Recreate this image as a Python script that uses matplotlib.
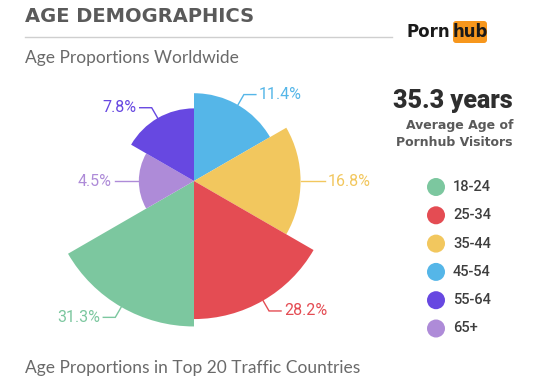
import numpy as np
import matplotlib
matplotlib.use("Agg")
import matplotlib.pyplot as plt
from matplotlib.patches import FancyBboxPatch, Circle

# ---- data ----
age_groups = ["45-54", "35-44", "25-34", "18-24", "65+", "55-64"]   # clockwise from top
shares = [11.4, 16.8, 28.2, 31.3, 4.5, 7.8]
colors = ["#55B6E8", "#F2C75E", "#E44C53", "#7CC79F", "#AE8BD8", "#6748E1"]
legend_groups = ["18-24", "25-34", "35-44", "45-54", "55-64", "65+"]
legend_colors = ["#7CC79F", "#E44C53", "#F2C75E", "#55B6E8", "#6748E1", "#AE8BD8"]

W, H = 560, 388
fig = plt.figure(figsize=(W / 100, H / 100), dpi=100)
fig.patch.set_facecolor("white")

# overlay axes in pixel coords (y downward)
ov = fig.add_axes([0, 0, 1, 1])
ov.set_xlim(0, W)
ov.set_ylim(H, 0)
ov.axis("off")

# polar axes: centre (194,181) px, 26 px per sqrt-unit
cx, cy, scale, R = 194, 181, 26.0, 6.0
rad_px = R * scale
pax = fig.add_axes([(cx - rad_px) / W, (H - cy - rad_px) / H, 2 * rad_px / W, 2 * rad_px / H],
                   projection="polar")
pax.set_theta_zero_location("N")
pax.set_theta_direction(-1)
pax.set_ylim(0, R)
pax.axis("off")
pax.set_zorder(1)
ov.set_zorder(2)
ov.patch.set_alpha(0)

n = len(shares)
width = 2 * np.pi / n
thetas = np.arange(n) * width + width / 2
radii = np.sqrt(shares)
pax.bar(thetas, radii, width=width, color=colors, edgecolor="none", align="center")

# leader lines and labels
for th, r, v, c in zip(thetas, radii, shares, colors):
    p0 = pax.transData.transform((th, r))
    x0, y0 = p0[0], H - p0[1]
    ux, uy = np.sin(th), -np.cos(th)
    x1, y1 = x0 + 12 * ux, y0 + 12 * uy
    side = 1 if ux > 1e-6 else -1
    x2 = x1 + 12 * side
    ov.plot([x0, x1, x2], [y0, y1, y1], color=c, lw=1.0, solid_joinstyle="miter")
    ov.text(x2 + 3 * side, y1, f"{v}%", color=c, fontsize=11.5, family="Roboto",
            ha="left" if side > 0 else "right", va="center")

# header
ov.text(25, 17, "AGE DEMOGRAPHICS", fontsize=14, fontweight="bold", color="#5A5A5A",
        family="DejaVu Sans", va="center", ha="left")
ov.plot([25, 392], [37, 37], color="#CFCFCF", lw=1.0)
ov.text(25, 58, "Age Proportions Worldwide", fontsize=12.5, color="#6A6A6A",
        family="Lato", va="center", ha="left")
ov.text(25, 368, "Age Proportions in Top 20 Traffic Countries", fontsize=12.5, color="#6A6A6A",
        family="Lato", va="center", ha="left")

# logo
ov.text(450, 32, "Porn", fontsize=12, fontweight="bold", color="#1A1A1A",
        family="DejaVu Sans", ha="right", va="center")
ov.add_patch(FancyBboxPatch((453, 21), 34, 22, boxstyle="round,pad=0,rounding_size=3",
                            facecolor="#F7971D", edgecolor="none"))
ov.text(470, 32, "hub", fontsize=12, fontweight="bold", color="#1A1A1A",
        family="DejaVu Sans", ha="center", va="center")

# average age
ov.text(513, 101, "35.3 years", fontsize=18, fontweight="black", color="#2E2E2E",
        family="Roboto", ha="right", va="center")
ov.text(513, 126, "Average Age of", fontsize=9, fontweight="bold", color="#5A5A5A",
        family="DejaVu Sans", ha="right", va="center")
ov.text(513, 142, "Pornhub Visitors", fontsize=9, fontweight="bold", color="#5A5A5A",
        family="DejaVu Sans", ha="right", va="center")

# legend
for i, (g, c) in enumerate(zip(legend_groups, legend_colors)):
    y = 187 + i * 28.3
    ov.add_patch(Circle((436, y), 9, facecolor=c, edgecolor="none"))
    ov.text(453, y, g, fontsize=10.5, fontweight="medium", color="#3E3E3E",
            family="Roboto", ha="left", va="center")

fig.savefig("out.png", dpi=100)
